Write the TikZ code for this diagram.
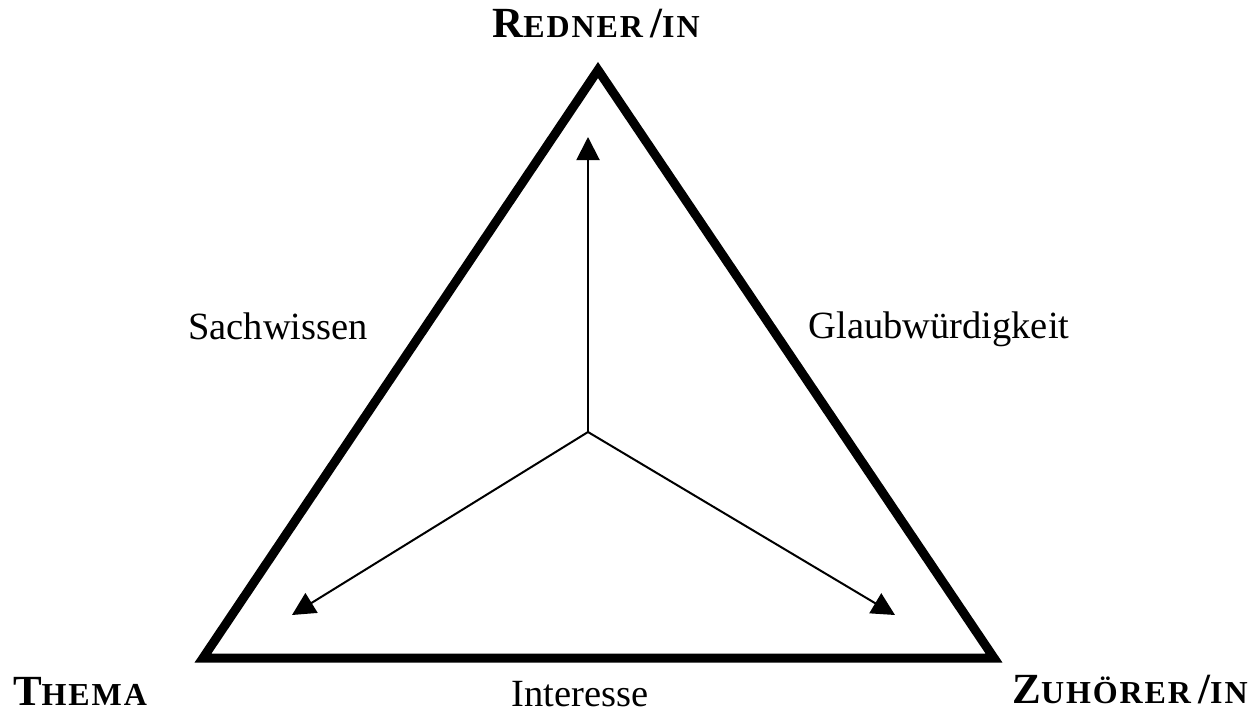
\documentclass[tikz,border=0pt]{standalone}
\usepackage{fontspec}
\setmainfont{Liberation Serif}
\usetikzlibrary{arrows.meta}
\newcommand\capA[2]{{\fontsize{43}{43}\selectfont #1}{\addfontfeature{LetterSpace=6}\fontsize{32}{32}\selectfont #2}}
\newcommand\capSl{{\fontsize{43}{43}\selectfont\,/}}
\begin{document}
\begin{tikzpicture}[x=1pt,y=-1pt,
  frame/.style={line width=9pt,line join=miter},
  ray/.style={line width=2pt,-{Triangle[length=23pt,width=23pt]}},
  vlabel/.style={font=\bfseries,inner sep=0pt,anchor=base},
  slabel/.style={font=\fontsize{38.5}{38.5}\selectfont,inner sep=0pt,anchor=base}]
\useasboundingbox (0,0) rectangle (1255,713);
\coordinate (A) at (598,70);
\coordinate (B) at (203,658);
\coordinate (C) at (994,658);
\coordinate (M) at (588,432);
\coordinate (tA) at (588,137);
\coordinate (tB) at (292,615);
\coordinate (tC) at (895,615);
\draw[frame] (A) -- (B) -- (C) -- cycle;
\draw[ray] (M) -- (tA);
\draw[ray] (M) -- (tB);
\draw[ray] (M) -- (tC);
\node[vlabel] (lA) at (596,37) {\capA{R}{EDNER}\capSl\capA{}{IN}};
\node[vlabel] (lB) at (80,705) {\capA{T}{HEMA}};
\node[vlabel] (lC) at (1130,703) {\capA{Z}{UHÖRER}\capSl\capA{}{IN}};
\node[slabel] (s1) at (278,339) {Sachwissen};
\node[slabel] (s2) at (939,338) {Glaubwürdigkeit};
\node[slabel] (s3) at (580,706) {Interesse};
\end{tikzpicture}
\end{document}
